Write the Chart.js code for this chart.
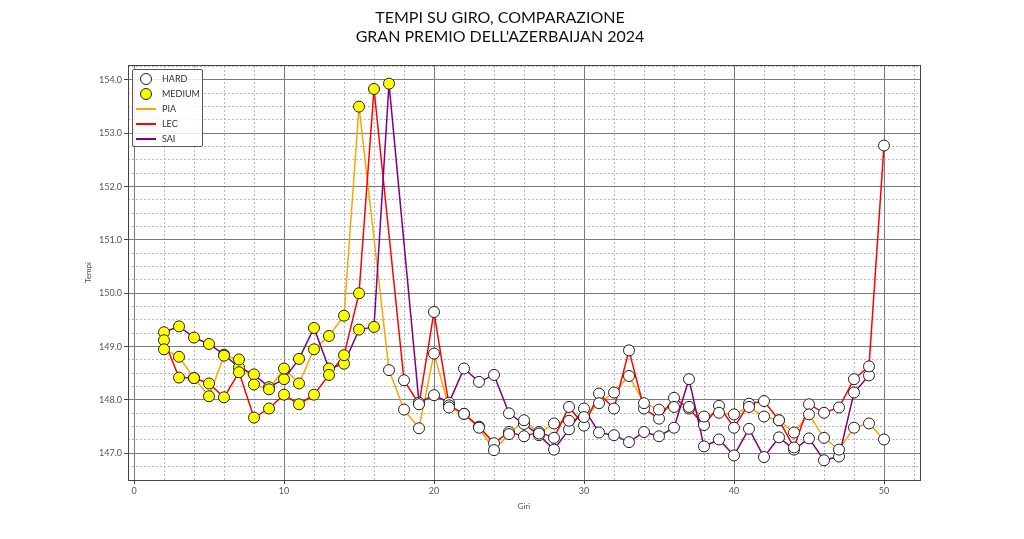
<!DOCTYPE html>
<html>
<head>
<meta charset="utf-8">
<script src="https://cdn.jsdelivr.net/npm/chart.js@4.4.1/dist/chart.umd.min.js"></script>
<style>
  html, body { margin: 0; padding: 0; background: #fff; }
  #wrap { position: relative; width: 1024px; height: 539px; }
  #legend {
    position: absolute; left: 132px; top: 69px; width: 71px; height: 78px;
    box-sizing: border-box; border: 1px solid #555; border-radius: 2px;
    background: rgba(255,255,255,0.85);
    font-family: Lato, "DejaVu Sans", sans-serif; font-size: 9px; color: #333;
  }
  .row { position: absolute; left: 0; width: 100%; height: 15px; line-height: 15px; }
  .dot { position: absolute; left: 7px; top: 2px; width: 10px; height: 10px; border: 1px solid #222; border-radius: 50%; }
  .ln  { position: absolute; left: 3px; top: 7px; width: 20px; height: 2px; }
  .lbl { position: absolute; left: 29px; }
</style>
</head>
<body>
<div id="wrap">
  <canvas id="lapChart" width="1024" height="539"></canvas>
  <div id="legend">
    <div class="row" style="top:1px"><span class="dot" style="background:#fff"></span><span class="lbl">HARD</span></div>
    <div class="row" style="top:16px"><span class="dot" style="background:#ffff00"></span><span class="lbl">MEDIUM</span></div>
    <div class="row" style="top:31px"><span class="ln" style="background:#ffa500"></span><span class="lbl">PIA</span></div>
    <div class="row" style="top:46px"><span class="ln" style="background:#ff0000"></span><span class="lbl">LEC</span></div>
    <div class="row" style="top:61px"><span class="ln" style="background:#800080"></span><span class="lbl">SAI</span></div>
  </div>
</div>
<script>
// ── Data (lap number -> lap time, pit laps left out) ─────────────

const PIA_LAPS  = [2,3,4,5,6,7,8,9,10,11,12,13,14,15,17,18,19,20,21,22,23,24,25,26,27,28,29,30,31,32,33,34,35,36,37,38,39,40,41,42,43,44,45,46,47,48,49,50];
const PIA_TIMES = [148.95,148.81,148.41,148.07,148.83,148.76,148.29,148.20,148.59,148.31,148.95,149.20,149.58,153.50,
                   148.56,147.82,147.47,148.87,147.86,147.74,147.48,147.06,147.36,147.62,147.37,147.56,147.61,147.68,
                   147.94,148.14,148.45,147.94,147.82,147.87,147.87,147.69,147.76,147.73,147.87,147.69,147.62,147.39,
                   147.73,147.29,147.07,147.48,147.56,147.26];

const LEC_LAPS  = [2,3,4,5,6,7,8,9,10,11,12,13,14,15,16,18,19,20,21,22,23,24,25,26,27,28,29,30,31,32,33,34,35,36,37,38,39,40,41,42,43,44,45,46,47,48,49,50];
const LEC_TIMES = [149.12,148.42,148.41,148.31,148.05,148.52,147.67,147.84,148.10,147.92,148.10,148.47,148.84,150.00,153.83,
                   148.37,147.92,149.65,147.90,147.74,147.50,147.19,147.40,147.32,147.40,147.29,147.87,147.52,
                   148.12,147.84,148.93,147.84,147.65,148.04,147.84,147.53,147.89,147.48,147.93,147.98,147.62,147.11,
                   147.92,147.76,147.86,148.39,148.63,152.77];

const SAI_LAPS  = [2,3,4,5,6,7,8,9,10,11,12,13,14,15,16,17,19,20,21,22,23,24,25,26,27,28,29,30,31,32,33,34,35,36,37,38,39,40,41,42,43,44,45,46,47,48,49];
const SAI_TIMES = [149.27,149.38,149.17,149.05,148.85,148.61,148.48,148.24,148.39,148.77,149.35,148.59,148.68,149.32,149.37,153.93,
                   147.95,148.09,147.95,148.59,148.34,148.47,147.75,147.55,147.34,147.07,147.45,147.84,
                   147.39,147.34,147.21,147.40,147.32,147.48,148.39,147.13,147.26,146.96,147.46,146.93,147.30,147.07,
                   147.28,146.87,146.94,148.14,148.46];

// first lap on HARD tyres (MEDIUM before)
const PIA_HARD_FROM = 17;
const LEC_HARD_FROM = 18;
const SAI_HARD_FROM = 19;

const X_MIN = -0.4, X_MAX = 52.4;
const Y_MIN = 146.5, Y_MAX = 154.28;

const FONT = 'Lato, "DejaVu Sans", sans-serif';

// ── Helpers ──────────────────────────────────────────────────

const toPoints = (laps, times) => laps.map((lap, i) => ({ x: lap, y: times[i] }));

function lineSet(label, laps, times, color, order) {
  return {
    label,
    data: toPoints(laps, times),
    borderColor: color,
    backgroundColor: color,
    borderWidth: 1.5,
    pointRadius: 0,
    tension: 0,
    order,
  };
}

function markerSet(label, laps, times, hardFrom) {
  return {
    label: label + " tyres",
    data: toPoints(laps, times),
    showLine: false,
    pointRadius: 5.5,
    pointBorderWidth: 1,
    pointBorderColor: "#222",
    pointBackgroundColor: (ctx) => (ctx.raw && ctx.raw.x >= hardFrom ? "#ffffff" : "#ffff00"),
    order: 0,
  };
}

const isWhole = (v, step) => Math.abs(v / step - Math.round(v / step)) < 1e-6;

// ── Chart ────────────────────────────────────────────────────

new Chart(document.getElementById("lapChart"), {
  type: "line",
  data: {
    datasets: [
      markerSet("PIA", PIA_LAPS, PIA_TIMES, PIA_HARD_FROM),
      markerSet("LEC", LEC_LAPS, LEC_TIMES, LEC_HARD_FROM),
      markerSet("SAI", SAI_LAPS, SAI_TIMES, SAI_HARD_FROM),
      lineSet("PIA", PIA_LAPS, PIA_TIMES, "#ffa500", 4),
      lineSet("LEC", LEC_LAPS, LEC_TIMES, "#ff0000", 3),
      lineSet("SAI", SAI_LAPS, SAI_TIMES, "#800080", 2),
    ],
  },
  options: {
    responsive: false,
    devicePixelRatio: 1,
    animation: false,
    layout: { padding: { left: 80, right: 104, top: 0, bottom: 24 } },
    plugins: {
      legend: { display: false },
      tooltip: { enabled: false },
      title: {
        display: true,
        text: ["TEMPI SU GIRO, COMPARAZIONE", "GRAN PREMIO DELL'AZERBAIJAN 2024"],
        color: "#111",
        font: { family: FONT, size: 16, weight: "normal", lineHeight: 1.2 },
        padding: { top: 8, bottom: 18.6 },
      },
    },
    scales: {
      x: {
        type: "linear",
        position: "bottom",
        min: X_MIN, max: X_MAX,
        ticks: {
          stepSize: 10, includeBounds: false, autoSkip: false, maxRotation: 0,
          padding: 2, color: "#555", font: { family: FONT, size: 9 },
        },
        grid: { color: "#7a7a7a", lineWidth: 1, tickLength: 4, tickColor: "#444" },
        border: { color: "#444", width: 1 },
        title: { display: true, text: "Giri", color: "#555", font: { family: FONT, size: 8 }, padding: 4 },
        afterFit: (s) => { s.height = 35; },
      },
      xMinor: {
        type: "linear",
        position: "top",
        min: X_MIN, max: X_MAX,
        ticks: { display: false, stepSize: 2, includeBounds: false },
        grid: {
          drawTicks: false, lineWidth: 0.8,
          color: (c) => (c.tick && isWhole(c.tick.value, 10) ? "rgba(0,0,0,0)" : "#a8a8a8"),
        },
        border: { display: true, color: "#444", width: 1, dash: [2, 2] },
        afterFit: (s) => { s.height = 0; },
      },
      y: {
        type: "linear",
        position: "left",
        min: Y_MIN, max: Y_MAX,
        ticks: {
          stepSize: 1, includeBounds: false, padding: 2, color: "#555",
          font: { family: FONT, size: 9 },
          callback: (v) => Number(v).toFixed(1),
        },
        grid: { color: "#7a7a7a", lineWidth: 1, tickLength: 4, tickColor: "#444" },
        border: { color: "#444", width: 1 },
        title: { display: true, text: "Tempi", color: "#555", font: { family: FONT, size: 8 }, padding: 4 },
        afterFit: (s) => { s.width = 48; },
      },
      yMinor: {
        type: "linear",
        position: "right",
        min: Y_MIN, max: Y_MAX,
        ticks: { display: false, stepSize: 0.25, includeBounds: false },
        grid: {
          drawTicks: false, lineWidth: 0.8,
          color: (c) => (c.tick && isWhole(c.tick.value, 1) ? "rgba(0,0,0,0)" : "#a8a8a8"),
        },
        border: { display: true, color: "#444", width: 1, dash: [2, 2] },
        afterFit: (s) => { s.width = 0; },
      },
    },
  },
});
</script>
</body>
</html>
